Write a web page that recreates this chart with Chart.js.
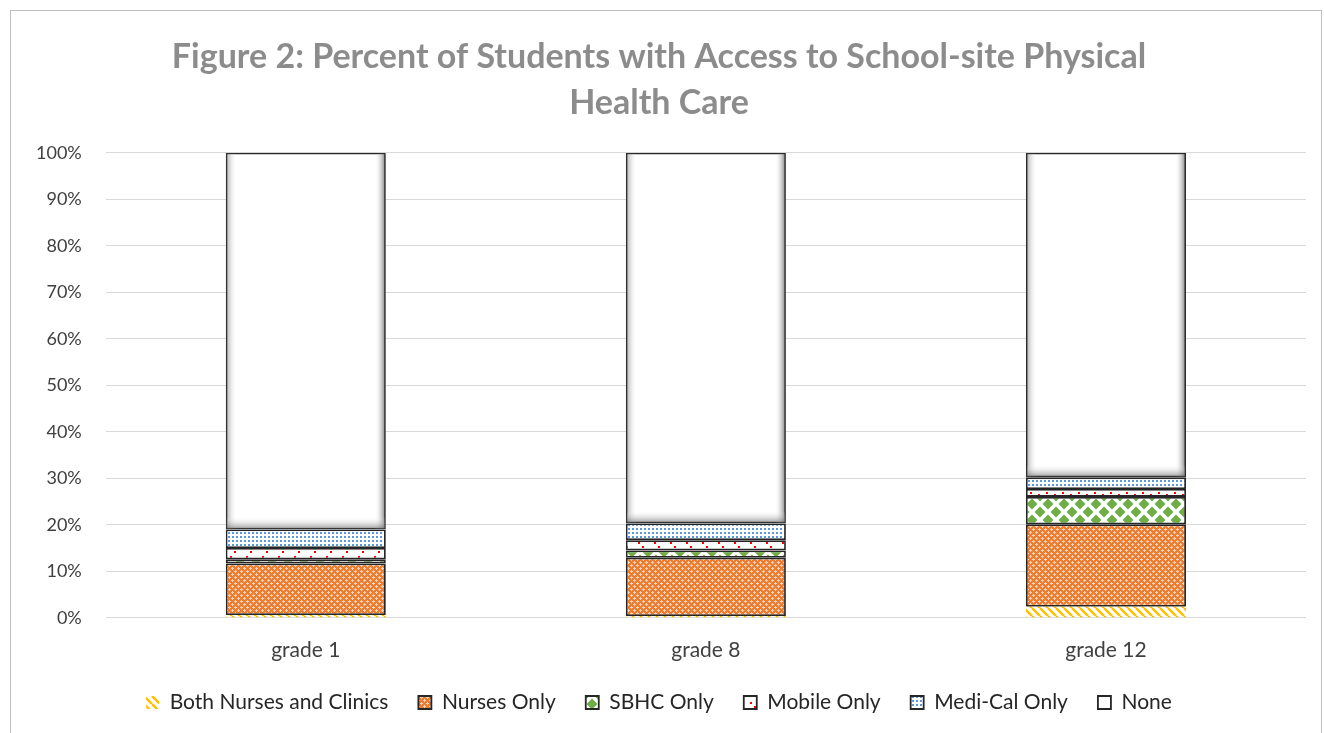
<!DOCTYPE html>
<html>
<head>
<meta charset="utf-8">
<script src="https://cdn.jsdelivr.net/npm/chart.js@4/dist/chart.umd.min.js"></script>
<style>
  html, body { margin: 0; padding: 0; background: #fff; }
  #wrap { position: absolute; left: 0; top: 0; width: 1324px; height: 733px; }
  #frame { position: absolute; left: 10px; top: 10px; width: 1310px; height: 760px; border: 1px solid #bfbfbf; pointer-events: none; }
</style>
</head>
<body>
<div id="wrap"><canvas id="chart"></canvas></div>
<div id="frame"></div>
<script>
// categories and values (percent of students)
const grades = ['grade 1', 'grade 8', 'grade 12'];
const bothNursesClinics = [0.6, 0.4, 2.4];
const nursesOnly = [11.1, 12.5, 17.7];
const sbhcOnly = [0.9, 1.6, 5.9];
const mobileOnly = [2.4, 2.2, 1.7];
const mediCalOnly = [4.0, 3.6, 2.5];
const noneAccess = [81.0, 79.7, 69.8];
const yTicks = [0, 10, 20, 30, 40, 50, 60, 70, 80, 90, 100];

const ctx = document.getElementById('chart');
const pctx = ctx.getContext('2d');

function tile(size, draw) {
  const c = document.createElement('canvas');
  c.width = size; c.height = size;
  const g = c.getContext('2d');
  g.fillStyle = '#fff';
  g.fillRect(0, 0, size, size);
  draw(g, size);
  return pctx.createPattern(c, 'repeat');
}

// yellow diagonal stripes
const bothFill = tile(8, function (g) {
  g.strokeStyle = '#FFC000';
  g.lineWidth = 2.5;
  for (let o = -8; o <= 16; o += 8) {
    g.beginPath(); g.moveTo(o, 0); g.lineTo(o + 8, 8); g.stroke();
  }
});
// orange with small white crosses
const nursesFill = tile(6, function (g) {
  g.fillStyle = '#ED7D31';
  g.fillRect(0, 0, 6, 6);
  g.fillStyle = '#fbd3b8';
  g.fillRect(1, 0, 1, 3); g.fillRect(0, 1, 3, 1);
  g.fillRect(4, 3, 1, 3); g.fillRect(3, 4, 3, 1);
});
// green diamonds
const sbhcFill = tile(16, function (g) {
  g.fillStyle = '#70AD47';
  function dia(x, y) {
    const h = 5.5;
    g.beginPath(); g.moveTo(x, y - h); g.lineTo(x + h, y); g.lineTo(x, y + h); g.lineTo(x - h, y); g.closePath(); g.fill();
  }
  dia(8, 8); dia(0, 0); dia(16, 0); dia(0, 16); dia(16, 16);
});
// red dots
const mobileFill = tile(16, function (g) {
  g.fillStyle = '#FF0000';
  g.fillRect(2, 2, 2, 2);
  g.fillRect(10, 7, 2, 2);
  g.fillRect(6, 12, 2, 2);
  g.fillRect(14, 14, 2, 2);
});
// blue dots
const mediFill = tile(4, function (g) {
  g.fillStyle = '#5B9BD5';
  g.fillRect(0, 0, 2, 2);
});

const edge = '#262626';

// soft bevel on the "None" segments
const bevel = {
  id: 'bevel',
  afterDatasetsDraw(chart) {
    const meta = chart.getDatasetMeta(5);
    const c = chart.ctx;
    meta.data.forEach(function (bar) {
      const p = bar.getProps(['x', 'y', 'base', 'width'], true);
      const l = p.x - p.width / 2 + 1, r = p.x + p.width / 2 - 1;
      const t = p.y + 1, b = p.base - 1;
      let gr = c.createLinearGradient(l, 0, l + 10, 0);
      gr.addColorStop(0, 'rgba(120,120,120,0.55)'); gr.addColorStop(1, 'rgba(255,255,255,0)');
      c.fillStyle = gr; c.fillRect(l, t, 10, b - t);
      gr = c.createLinearGradient(r, 0, r - 10, 0);
      gr.addColorStop(0, 'rgba(90,90,90,0.7)'); gr.addColorStop(1, 'rgba(255,255,255,0)');
      c.fillStyle = gr; c.fillRect(r - 10, t, 10, b - t);
      gr = c.createLinearGradient(0, b, 0, b - 12);
      gr.addColorStop(0, 'rgba(100,100,100,0.6)'); gr.addColorStop(1, 'rgba(255,255,255,0)');
      c.fillStyle = gr; c.fillRect(l, b - 12, r - l, 12);
    });
  }
};

// tighten the legend block a bit so the plot keeps its height
const LEGEND_TRIM = 13;
const legendTrim = {
  id: 'legendTrim',
  afterInit(chart) {
    const lg = chart.legend;
    const fit = lg.fit, draw = lg.draw;
    lg.fit = function () { fit.call(this); this.height -= LEGEND_TRIM; };
    lg.draw = function () {
      const t = this.top;
      this.top = t - LEGEND_TRIM;
      draw.call(this);
      this.top = t;
    };
  }
};

function ds(label, data, fill, border) {
  return {
    label: label,
    data: data,
    backgroundColor: fill,
    borderColor: border ? edge : 'rgba(0,0,0,0)',
    borderWidth: border ? 1.8 : 0,
    borderSkipped: false,
    barPercentage: 0.4,
    categoryPercentage: 1.0
  };
}

new Chart(ctx, {
  type: 'bar',
  data: {
    labels: grades,
    datasets: [
      ds('Both Nurses and Clinics', bothNursesClinics, bothFill, false),
      ds('Nurses Only', nursesOnly, nursesFill, true),
      ds('SBHC Only', sbhcOnly, sbhcFill, true),
      ds('Mobile Only', mobileOnly, mobileFill, true),
      ds('Medi-Cal Only', mediCalOnly, mediFill, true),
      ds('None', noneAccess, '#ffffff', true)
    ]
  },
  plugins: [bevel, legendTrim],
  options: {
    responsive: true,
    maintainAspectRatio: false,
    animation: false,
    layout: { padding: { left: 12, right: 18, top: 34, bottom: 10 } },
    plugins: {
      title: {
        display: true,
        text: ['Figure 2: Percent of Students with Access to School-site Physical', 'Health Care'],
        color: '#8c8c8c',
        font: { family: 'Lato', size: 34, weight: 'bold', lineHeight: 1.35 },
        padding: { top: 0, bottom: 27 }
      },
      legend: {
        position: 'bottom',
        labels: {
          color: '#262626',
          font: { family: 'Lato', size: 21 },
          boxWidth: 13,
          boxHeight: 13,
          padding: 30
        }
      },
      tooltip: { enabled: false }
    },
    scales: {
      x: {
        stacked: true,
        grid: { display: false },
        border: { display: false },
        ticks: { color: '#404040', font: { family: 'Lato', size: 21 }, padding: 12 }
      },
      y: {
        stacked: true,
        min: 0,
        max: 100,
        afterBuildTicks: function (axis) { axis.ticks = yTicks.map(function (v) { return { value: v }; }); },
        grid: { color: '#d9d9d9', lineWidth: 1, drawTicks: false },
        border: { display: false },
        ticks: {
          color: '#404040',
          font: { family: 'Lato', size: 18 },
          padding: 24,
          callback: function (v) { return v + '%'; }
        }
      }
    }
  }
});
</script>
</body>
</html>
